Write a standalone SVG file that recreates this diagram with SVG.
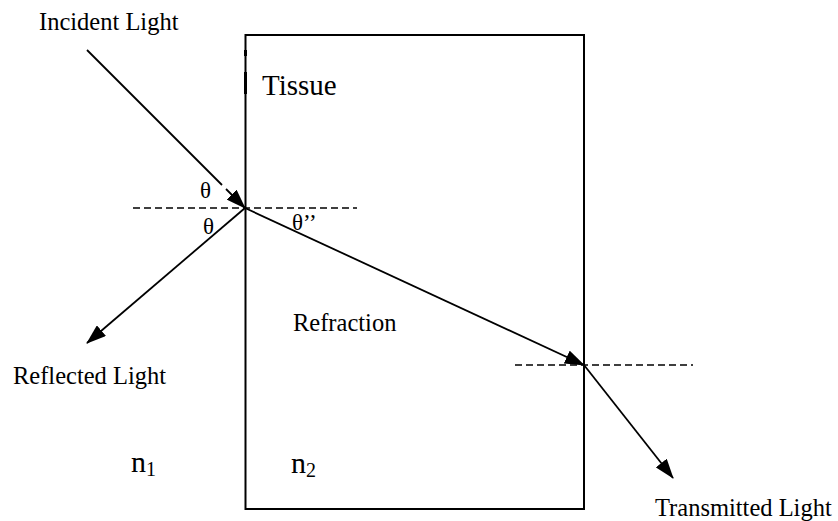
<svg xmlns="http://www.w3.org/2000/svg" width="838" height="521" viewBox="0 0 838 521">
<style>
  .lbl { font-family: "Liberation Serif", "Times New Roman", serif; font-size: 24.5px; fill: #000; }
  .ray { stroke: #000; stroke-width: 1.8; fill: none; }
  .norm { stroke: #000; stroke-width: 1.5; stroke-dasharray: 7 4; fill: none; }
  .box { stroke: #000; stroke-width: 2; fill: none; }
  .ang { font-size: 23px; }
</style>
<defs>
  <marker id="arr" viewBox="0 0 20 14" refX="19" refY="7" markerWidth="20" markerHeight="14" markerUnits="userSpaceOnUse" orient="auto">
    <path d="M0,0 L20,7 L0,14 Z" fill="#000"/>
  </marker>
</defs>
<rect width="838" height="521" fill="#fff"/>

<g id="tissue">
  <rect class="box" x="245.5" y="35" width="338.5" height="474"/>
  <line x1="245.5" y1="50" x2="245.5" y2="56" stroke="#000" stroke-width="3"/>
  <line x1="245.5" y1="72" x2="245.5" y2="94" stroke="#000" stroke-width="3"/>
  <text class="lbl" x="262" y="95" style="font-size:29px">Tissue</text>
  <text class="lbl" x="293" y="331">Refraction</text>
</g>

<g id="normals">
  <line class="norm" x1="133" y1="208" x2="357" y2="208"/>
  <line class="norm" x1="515" y1="365" x2="693" y2="365"/>
</g>

<g id="connectors">
  <line class="ray" x1="87" y1="50" x2="222" y2="185"/>
  <line class="ray" x1="226" y1="189" x2="245" y2="208" marker-end="url(#arr)"/>
  <line class="ray" x1="245" y1="208" x2="87" y2="343" marker-end="url(#arr)"/>
  <line class="ray" x1="245" y1="208" x2="584" y2="365" marker-end="url(#arr)"/>
  <line class="ray" x1="584" y1="365" x2="673" y2="478" marker-end="url(#arr)"/>
</g>

<g id="labels">
  <text class="lbl" x="39" y="30">Incident Light</text>
  <text class="lbl" x="13" y="384">Reflected Light</text>
  <text class="lbl" x="655" y="516">Transmitted Light</text>
  <text class="lbl ang" x="200" y="198">θ</text>
  <text class="lbl ang" x="203" y="234">θ</text>
  <text class="lbl ang" x="292" y="230">θ’’</text>
  <text class="lbl" x="131" y="472" style="font-size:30px">n<tspan style="font-size:20px" dy="4">1</tspan></text>
  <text class="lbl" x="291" y="473" style="font-size:30px">n<tspan style="font-size:20px" dy="4">2</tspan></text>
</g>
</svg>
